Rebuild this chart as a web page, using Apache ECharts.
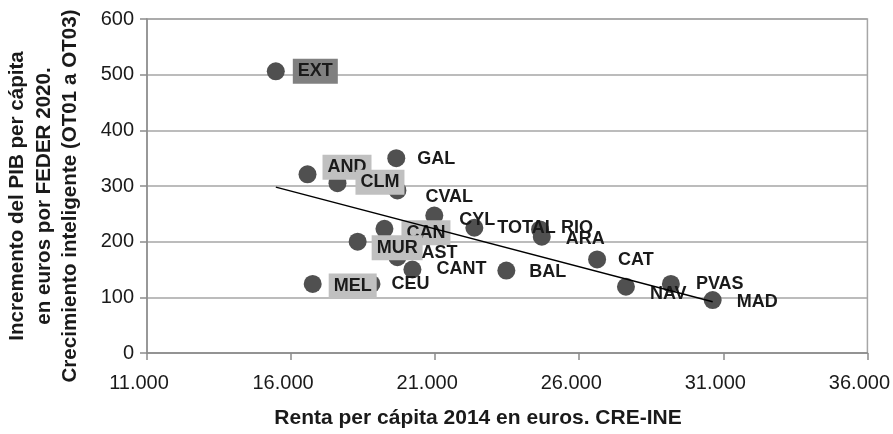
<!DOCTYPE html>
<html>
<head>
<meta charset="utf-8">
<script src="https://cdn.jsdelivr.net/npm/echarts@6/dist/echarts.min.js"></script>
<style>
  html, body { margin: 0; padding: 0; background: #fff; }
  #chart { width: 893px; height: 434px; }
</style>
</head>
<body>
<div id="chart"></div>
<script>
// datos
const regiones = ['EXT', 'AND', 'CLM', 'GAL', 'CVAL', 'CYL', 'TOTAL', 'RIO', 'ARA', 'CAN',
  'MUR', 'AST', 'CANT', 'BAL', 'MEL', 'CEU', 'CAT', 'NAV', 'PVAS', 'MAD'];
const renta = [15470, 16570, 17610, 19650, 19690, 20970, 22360, 24640, 24700, 19240,
  18310, 19690, 20210, 23470, 16750, 18790, 26620, 27620, 29180, 30630];
const incremento = [506, 321, 305, 350, 292, 247, 225, 222, 209, 223,
  200, 172, 150, 148, 124, 124, 168, 119, 124, 95];

// línea de tendencia (extremos)
const tendenciaX = [15470, 30630];
const tendenciaY = [298, 92];

const yTicks = [0, 100, 200, 300, 400, 500, 600];

// ajustes de etiquetas [dx, dy]
const desplazamiento = {
  EXT: [-6, 0], AND: [-8, -7], CLM: [-5, -1], MUR: [-9, 6], MEL: [-7, 2], CAN: [-6, 4],
  GAL: [-2, 1], CVAL: [5, 7], CYL: [2, 5], TOTAL: [0, 0], RIO: [-2, -1], ARA: [1, 2],
  AST: [1, -4], CANT: [1, 0], BAL: [0, 1], CEU: [-3, 0], CAT: [-2, 1], NAV: [1, 7],
  PVAS: [2, 0], MAD: [1, 2]
};
const cajas = { EXT: '#808080', AND: '#c0c0c0', CLM: '#c0c0c0', MUR: '#c0c0c0', MEL: '#c0c0c0', CAN: '#c0c0c0' };

const chart = echarts.init(document.getElementById('chart'));

const puntos = regiones.map((r, i) => {
  const lbl = { offset: desplazamiento[r] || [0, 0] };
  if (cajas[r]) {
    lbl.backgroundColor = cajas[r];
    lbl.padding = [3, 5, 3, 5];
  }
  return { name: r, value: [renta[i], incremento[i]], label: lbl };
});

const fuente = 'Liberation Sans, Arial, sans-serif';

const option = {
  animation: false,
  grid: {
    left: 147, right: 24, top: 19, bottom: 81,
    show: true, borderColor: '#a6a6a6', borderWidth: 1.5
  },
  xAxis: {
    type: 'value',
    min: 11000, max: 36000, interval: 5000,
    axisLine: { show: true, onZero: false, lineStyle: { color: '#8c8c8c', width: 1.5 } },
    axisTick: { show: true, length: 7, lineStyle: { color: '#8c8c8c', width: 1.5 } },
    splitLine: { show: false },
    axisLabel: {
      margin: 20, color: '#1a1a1a', fontSize: 20, fontFamily: fuente,
      padding: [0, 16, 0, 0],
      formatter: v => (v / 1000).toFixed(3)
    }
  },
  yAxis: {
    type: 'value',
    min: yTicks[0], max: yTicks[yTicks.length - 1], interval: 100,
    axisLine: { show: true, lineStyle: { color: '#8c8c8c', width: 1.5 } },
    axisTick: { show: true, length: 7, lineStyle: { color: '#8c8c8c', width: 1.5 } },
    splitLine: { show: true, lineStyle: { color: '#a6a6a6', width: 1.5 } },
    axisLabel: { margin: 13, color: '#1a1a1a', fontSize: 20, fontFamily: fuente }
  },
  graphic: [
    {
      type: 'text', x: 44, y: 196, rotation: Math.PI / 2,
      style: {
        text: 'Incremento del PIB per cápita\nen euros por FEDER 2020.\nCrecimiento inteligente (OT01 a OT03)',
        font: 'bold 20.6px ' + fuente, fill: '#1a1a1a',
        align: 'center', verticalAlign: 'middle', lineHeight: 26.5
      }
    },
    {
      type: 'text', x: 478, y: 418,
      style: {
        text: 'Renta per cápita 2014 en euros. CRE-INE',
        font: 'bold 21px ' + fuente, fill: '#1a1a1a',
        align: 'center', verticalAlign: 'middle'
      }
    }
  ],
  series: [
    {
      type: 'scatter',
      z: 2,
      symbolSize: 18,
      itemStyle: { color: '#505050', opacity: 1 },
      label: {
        show: true, position: 'right', distance: 14,
        formatter: '{b}', color: '#1a1a1a', fontSize: 18, fontWeight: 'bold',
        fontFamily: fuente, lineHeight: 19
      },
      data: puntos
    },
    {
      type: 'line',
      z: 5,
      symbol: 'none',
      silent: true,
      lineStyle: { color: '#000', width: 1.5 },
      data: tendenciaX.map((x, i) => [x, tendenciaY[i]])
    }
  ]
};

chart.setOption(option);
</script>
</body>
</html>
